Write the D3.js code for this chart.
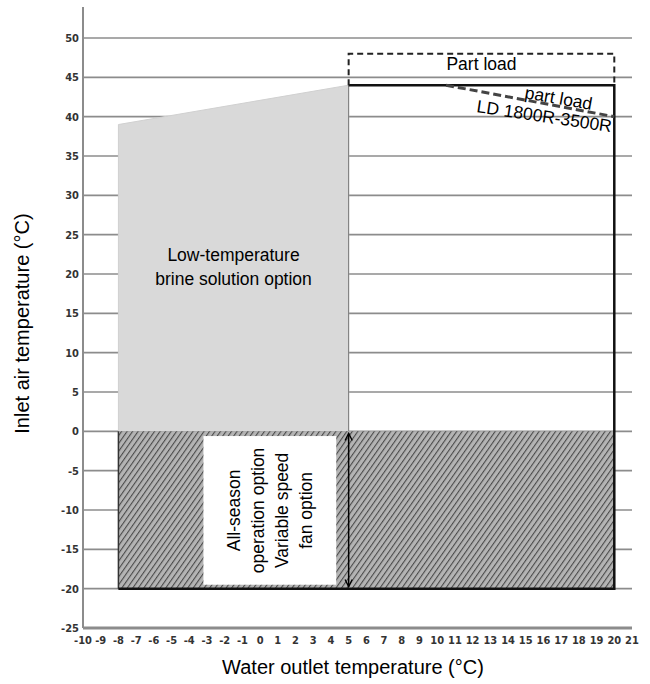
<!DOCTYPE html>
<html>
<head>
<meta charset="utf-8">
<script src="https://cdn.jsdelivr.net/npm/d3@7"></script>
<style>
  body { margin: 0; background: #fff; }
  .tick-label { font-family: "DejaVu Sans Condensed", "DejaVu Sans", sans-serif; font-size: 11px; font-weight: bold; fill: #333; }
  .note { font-family: "Liberation Sans", Arial, sans-serif; font-size: 17.5px; fill: #000; }
  .axis-title { font-family: "Liberation Sans", Arial, sans-serif; font-size: 20px; fill: #000; }
</style>
</head>
<body>
<svg id="chart" width="650" height="684"></svg>
<script>
// Axis ticks
const xTicks = [-10,-9,-8,-7,-6,-5,-4,-3,-2,-1,0,1,2,3,4,5,6,7,8,9,10,11,12,13,14,15,16,17,18,19,20,21];
const yTicks = [-25,-20,-15,-10,-5,0,5,10,15,20,25,30,35,40,45,50];

// Operating areas (water outlet °C, inlet air °C)
const brineArea = [[-8, 0], [-8, 39], [5, 44], [5, 0]];
const allSeasonArea = { x: [-8, 20], y: [-20, 0] };
const envelope = { x: [5, 20], y: [-20, 44] };
const partLoadBox = { x: [5, 20], y: [44, 48] };
const partLoadLine = [[10.5, 44], [20, 40]];
const labelBox = { x: [-3.2, 4.3], y: [-19.5, -0.6] };
const arrowSpan = { x: 5, y: [0, -20] };

const svg = d3.select("#chart");

const x = d3.scaleLinear().domain([-10, 21]).range([83, 632]);
const y = d3.scaleLinear().domain([-25, 50]).range([628, 38]);

// hatch pattern and arrow markers
const defs = svg.append("defs");
const pat = defs.append("pattern")
    .attr("id", "hatch")
    .attr("patternUnits", "userSpaceOnUse")
    .attr("width", 4.5).attr("height", 4.5)
    .attr("patternTransform", "rotate(35)");
pat.append("rect").attr("width", 4.5).attr("height", 4.5).attr("fill", "#b4b4b4");
pat.append("line").attr("x1", 0).attr("y1", 0).attr("x2", 0).attr("y2", 4.5)
    .attr("stroke", "#4a4a4a").attr("stroke-width", 2.2);

defs.append("marker")
    .attr("id", "arr")
    .attr("viewBox", "0 0 10 10")
    .attr("refX", 9).attr("refY", 5)
    .attr("markerWidth", 6).attr("markerHeight", 8)
    .attr("orient", "auto-start-reverse")
  .append("path")
    .attr("d", "M1,1 L9,5 L1,9")
    .attr("fill", "none").attr("stroke", "#000").attr("stroke-width", 1.5);

// gridlines
svg.append("g").selectAll("line")
    .data(yTicks.filter(d => d > -25))
  .join("line")
    .attr("x1", x(-10)).attr("x2", x(21))
    .attr("y1", d => y(d)).attr("y2", d => y(d))
    .attr("stroke", "#8c8c8c").attr("stroke-width", 1.6);

// axis lines
svg.append("line")
    .attr("x1", x(-10)).attr("x2", x(-10))
    .attr("y1", 7).attr("y2", y(-25))
    .attr("stroke", "#8c8c8c").attr("stroke-width", 2);
svg.append("line")
    .attr("x1", x(-10)).attr("x2", x(21))
    .attr("y1", y(-25)).attr("y2", y(-25))
    .attr("stroke", "#8c8c8c").attr("stroke-width", 3);

// tick labels
svg.append("g").selectAll("text")
    .data(yTicks)
  .join("text")
    .attr("class", "tick-label")
    .attr("x", x(-10) - 4)
    .attr("y", d => y(d))
    .attr("dy", "0.35em")
    .attr("text-anchor", "end")
    .text(d => d);

svg.append("g").selectAll("text")
    .data(xTicks)
  .join("text")
    .attr("class", "tick-label")
    .attr("x", d => x(d))
    .attr("y", y(-25) + 16)
    .attr("text-anchor", "middle")
    .text(d => d);

// low temperature brine area
svg.append("path")
    .datum(brineArea)
    .attr("d", d3.line().x(d => x(d[0])).y(d => y(d[1])))
    .attr("fill", "#d9d9d9")
    .attr("stroke", "#d0d0d0");
svg.append("line")
    .attr("x1", x(5)).attr("x2", x(5))
    .attr("y1", y(44)).attr("y2", y(0))
    .attr("stroke", "#777").attr("stroke-width", 1);

// all-season hatched area
svg.append("rect")
    .attr("x", x(allSeasonArea.x[0]))
    .attr("y", y(allSeasonArea.y[1]))
    .attr("width", x(allSeasonArea.x[1]) - x(allSeasonArea.x[0]))
    .attr("height", y(allSeasonArea.y[0]) - y(allSeasonArea.y[1]))
    .attr("fill", "url(#hatch)");
svg.append("line")
    .attr("x1", x(-8)).attr("x2", x(-8))
    .attr("y1", y(0)).attr("y2", y(-20))
    .attr("stroke", "#333").attr("stroke-width", 1.5);

// white label box
svg.append("rect")
    .attr("x", x(labelBox.x[0]))
    .attr("y", y(labelBox.y[1]))
    .attr("width", x(labelBox.x[1]) - x(labelBox.x[0]))
    .attr("height", y(labelBox.y[0]) - y(labelBox.y[1]))
    .attr("fill", "#fff");

// operating envelope
svg.append("path")
    .attr("d", `M${x(envelope.x[0])},${y(envelope.y[1])} H${x(envelope.x[1])} V${y(envelope.y[0])} H${x(-8)}`)
    .attr("fill", "none")
    .attr("stroke", "#111").attr("stroke-width", 2.5);

// part load dashed box
svg.append("path")
    .attr("d", `M${x(partLoadBox.x[0])},${y(partLoadBox.y[0])} V${y(partLoadBox.y[1])} H${x(partLoadBox.x[1])} V${y(partLoadBox.y[0])}`)
    .attr("fill", "none")
    .attr("stroke", "#222").attr("stroke-width", 2)
    .attr("stroke-dasharray", "6,4");

// part load sloped line
svg.append("path")
    .datum(partLoadLine)
    .attr("d", d3.line().x(d => x(d[0])).y(d => y(d[1])))
    .attr("fill", "none")
    .attr("stroke", "#444").attr("stroke-width", 3)
    .attr("stroke-dasharray", "8,4");

// double arrow
svg.append("line")
    .attr("x1", x(arrowSpan.x)).attr("x2", x(arrowSpan.x))
    .attr("y1", y(arrowSpan.y[0]) + 2).attr("y2", y(arrowSpan.y[1]) - 2)
    .attr("stroke", "#000").attr("stroke-width", 1.5)
    .attr("marker-start", "url(#arr)")
    .attr("marker-end", "url(#arr)");

// annotations
svg.append("text").attr("class", "note")
    .attr("x", (x(5) + x(20)) / 2).attr("y", y(46) + 1)
    .attr("text-anchor", "middle")
    .text("Part load");

const ang = 10;
svg.append("text").attr("class", "note")
    .attr("transform", `translate(${x(16.8)},${y(41.6)}) rotate(${ang})`)
    .attr("text-anchor", "middle")
    .text("part load");
svg.append("text").attr("class", "note")
    .attr("transform", `translate(${x(16.0)},${y(39.3)}) rotate(${ang - 1.5})`)
    .attr("text-anchor", "middle")
    .text("LD 1800R-3500R");

const brineLines = ["Low-temperature", "brine solution option"];
svg.append("g").selectAll("text")
    .data(brineLines)
  .join("text")
    .attr("class", "note")
    .attr("x", x(-1.5))
    .attr("y", (d, i) => y(21.6) + i * 24)
    .attr("text-anchor", "middle")
    .text(d => d);

const boxLines = ["All-season", "operation option", "Variable speed", "fan option"];
const cx = (x(labelBox.x[0]) + x(labelBox.x[1])) / 2;
const cy = (y(labelBox.y[0]) + y(labelBox.y[1])) / 2;
svg.append("g")
    .attr("transform", `translate(${cx},${cy}) rotate(-90)`)
  .selectAll("text")
    .data(boxLines)
  .join("text")
    .attr("class", "note")
    .attr("x", 0)
    .attr("y", (d, i) => (i - 1.5) * 24 + 6)
    .attr("text-anchor", "middle")
    .text(d => d);

// axis titles
svg.append("text").attr("class", "axis-title")
    .attr("transform", `translate(29,${y(13.7)}) rotate(-90)`)
    .attr("text-anchor", "middle")
    .text("Inlet air temperature (°C)");
svg.append("text").attr("class", "axis-title")
    .attr("x", 353).attr("y", 674)
    .attr("text-anchor", "middle")
    .text("Water outlet temperature (°C)");
</script>
</body>
</html>
